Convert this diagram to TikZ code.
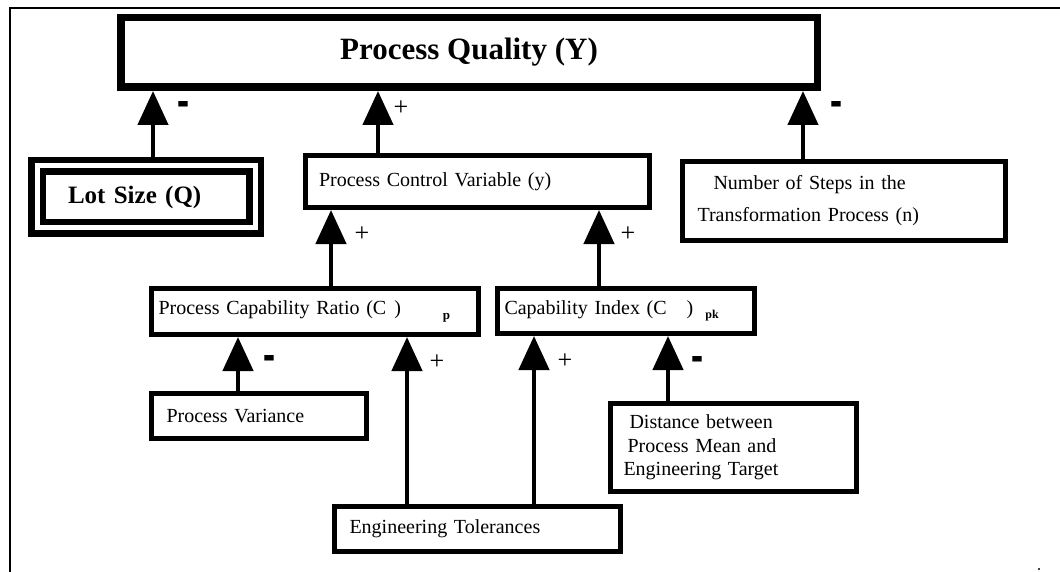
\documentclass[tikz,border=0pt]{standalone}
\usepackage{fontspec}
\setmainfont{Liberation Serif}
\usetikzlibrary{arrows.meta}

\tikzset{
  box/.style={draw, rectangle, line width=5pt, inner ysep=0pt, align=left,
    font=\fontsize{20}{24}\selectfont},
  arr/.style={line width=4.5pt, -{Triangle[length=34pt,width=30pt]}},
  plus/.style={inner sep=0pt, font=\fontsize{26}{26}\selectfont},
  minus/.style={inner sep=0pt, font=\fontsize{36}{36}\selectfont\bfseries},
}

\begin{document}
\begin{tikzpicture}[x=1pt, y=-1pt]
  \useasboundingbox (0,0) rectangle (1060,572);

  % frame lines along the top and the left
  \draw[line width=2pt] (10,572) -- (10,8) -- (1060,8);
  \fill (1039,569) circle (1.2);

  % main outcome
  \node[draw, rectangle, line width=7.5pt, minimum width=696.5pt, minimum height=69.5pt,
        font=\fontsize{31}{31}\selectfont\bfseries] (top) at (469,52.5) {Process Quality (Y)};

  % first level
  \node[draw, rectangle, double, double distance=5pt, line width=6.5pt, outer sep=9pt,
        minimum width=218pt, minimum height=62pt, text width=156pt, inner xsep=31pt,
        align=left, font=\fontsize{25}{25}\selectfont\bfseries] (lot) at (146,197) {Lot Size (Q)};
  \node[box, minimum height=52pt, text width=317pt, inner xsep=13.5pt] (pcv) at (477.5,181.5)
        {Process Control Variable (y)};
  \node[box, minimum height=79pt, text width=293pt, inner xsep=15pt,
        font=\fontsize{20}{32}\selectfont] (nos) at (844,201)
        {\hspace*{16pt}Number of Steps in the\\Transformation Process (n)};

  % second level
  \node[box, minimum height=46pt, text width=313pt, inner xsep=7pt] (pcr) at (315,311.5)
        {Process Capability Ratio (C\hspace{8pt})\hspace{42pt}\raisebox{-5pt}{\fontsize{13}{13}\selectfont\bfseries p}};
  \node[box, minimum height=45pt, text width=243pt, inner xsep=7pt] (ci) at (626,311)
        {Capability Index (C\hspace{20pt})\hspace{12pt}\raisebox{-4pt}{\fontsize{12}{12}\selectfont\bfseries pk}};

  % third level
  \node[box, minimum height=45pt, text width=185pt, inner xsep=15pt] (pv) at (259,416)
        {Process Variance};
  \node[box, minimum height=45pt, text width=256pt, inner xsep=15pt] (et) at (477.5,529)
        {Engineering Tolerances};
  \node[box, minimum height=88pt, text width=220pt, inner xsep=13pt,
        font=\fontsize{20}{23.5}\selectfont] (dist) at (733.5,447.5)
        {\hspace*{6pt}Distance between\\\hspace*{4pt}Process Mean and\\Engineering Target};

  % columns of the connectors
  \coordinate (xa) at (153,0);
  \coordinate (xb) at (378,0);
  \coordinate (xc) at (803,0);
  \coordinate (xd) at (331,0);
  \coordinate (xe) at (599,0);
  \coordinate (xf) at (238,0);
  \coordinate (xg) at (407,0);
  \coordinate (xh) at (534,0);
  \coordinate (xi) at (668,0);

  % influences
  \draw[arr] (lot.north -| xa) -- (top.south -| xa);
  \draw[arr] (pcv.north -| xb) -- (top.south -| xb);
  \draw[arr] (nos.north -| xc) -- (top.south -| xc);
  \draw[arr] (pcr.north -| xd) -- (pcv.south -| xd);
  \draw[arr] (ci.north -| xe) -- (pcv.south -| xe);
  \draw[arr] (pv.north -| xf) -- (pcr.south -| xf);
  \draw[arr] (et.north -| xg) -- (pcr.south -| xg);
  \draw[arr] (et.north -| xh) -- (ci.south -| xh);
  \draw[arr] (dist.north -| xi) -- (ci.south -| xi);

  % signs of the influences
  \node[minus] (s1) at (183,110.5) {\scalebox{1}[1.8]{-}};
  \node[plus]  (s2) at (401,108) {+};
  \node[minus] (s3) at (836,110) {\scalebox{1}[1.8]{-}};
  \node[plus]  (s4) at (362,234) {+};
  \node[plus]  (s5) at (628,234) {+};
  \node[minus] (s6) at (269,364) {\scalebox{1}[1.8]{-}};
  \node[plus]  (s7) at (437,362) {+};
  \node[plus]  (s8) at (565,361) {+};
  \node[minus] (s9) at (697,365) {\scalebox{1}[1.8]{-}};
\end{tikzpicture}
\end{document}
